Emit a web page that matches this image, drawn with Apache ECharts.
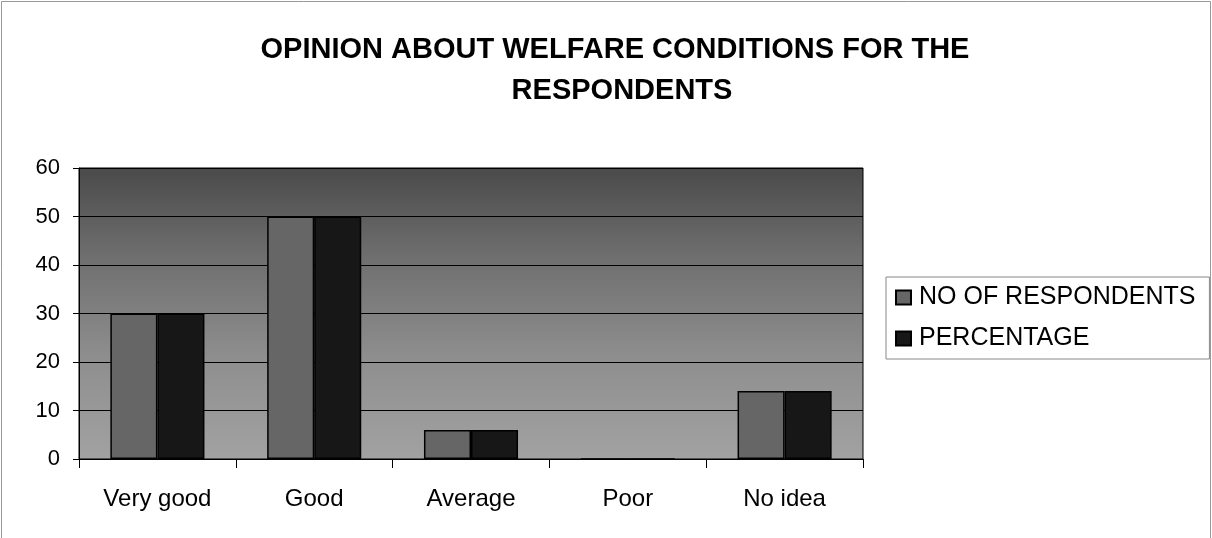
<!DOCTYPE html>
<html><head><meta charset="utf-8">
<script src="https://cdn.jsdelivr.net/npm/echarts@6/dist/echarts.min.js"></script>
<style>html,body{margin:0;padding:0;background:#fff}#c{width:1212px;height:538px}</style>
</head><body><div id="c"></div>
<script>
const categories = ['Very good', 'Good', 'Average', 'Poor', 'No idea'];
const respondents = [30, 50, 6, 0, 14];
const percentage = [30, 50, 6, 0, 14];
const seriesNames = ['NO OF RESPONDENTS', 'PERCENTAGE'];
const titleLines = ['OPINION ABOUT WELFARE CONDITIONS FOR THE', 'RESPONDENTS'];

const chart = echarts.init(document.getElementById('c'));
const font = 'Liberation Sans, Arial, sans-serif';
const titleStyle = { fontFamily: font, fontSize: 29, fontWeight: 'bold', color: '#000', lineHeight: 29 };
chart.setOption({
  animation: false,
  backgroundColor: '#fff',
  title: [
    { text: titleLines[0], left: 615, top: 35, textAlign: 'center', padding: 0, textStyle: titleStyle },
    { text: titleLines[1], left: 622, top: 76, textAlign: 'center', padding: 0, textStyle: titleStyle }
  ],
  legend: {
    orient: 'vertical', left: 886, top: 277, padding: [8, 14, 8, 9],
    width: 326, height: 82,
    borderColor: '#888', borderWidth: 1, itemGap: 16,
    itemWidth: 15, itemHeight: 14, icon: 'rect',
    textStyle: { fontFamily: font, fontSize: 25, color: '#000', padding: [0, 0, 0, 3] },
    data: seriesNames
  },
  grid: {
    left: 79, right: 349, top: 168, bottom: 79, show: true,
    borderColor: '#000', borderWidth: 1,
    backgroundColor: new echarts.graphic.LinearGradient(0, 0, 0, 1, [
      { offset: 0, color: '#4a4a4a' }, { offset: 0.3, color: '#6e6e6e' },
      { offset: 0.65, color: '#8e8e8e' }, { offset: 1, color: '#a2a2a2' }
    ])
  },
  xAxis: {
    type: 'category', data: categories,
    axisLine: { lineStyle: { color: '#000', width: 1 } },
    axisTick: { show: true, length: 9, lineStyle: { color: '#000' } },
    axisLabel: { fontFamily: font, fontSize: 24, color: '#000', margin: 28 }
  },
  yAxis: {
    type: 'value', min: 0, max: 60, interval: 10,
    axisLine: { show: true, lineStyle: { color: '#000' } },
    axisTick: { show: true, length: 6, lineStyle: { color: '#000' } },
    axisLabel: { fontFamily: font, fontSize: 22, color: '#000', margin: 19 },
    splitLine: { lineStyle: { color: '#000', width: 1 } }
  },
  series: [
    { name: seriesNames[0], type: 'bar', data: respondents, barGap: '0%', barCategoryGap: '40%',
      itemStyle: { color: '#666666', borderColor: '#000', borderWidth: 1.5 } },
    { name: seriesNames[1], type: 'bar', data: percentage,
      itemStyle: { color: '#171717', borderColor: '#000', borderWidth: 1.5 } }
  ],
  graphic: [
    { type: 'rect', shape: { x: 1.5, y: 1.5, width: 1209, height: 540 }, silent: true,
      style: { fill: null, stroke: '#999', lineWidth: 1 } }
  ]
});
</script></body></html>
